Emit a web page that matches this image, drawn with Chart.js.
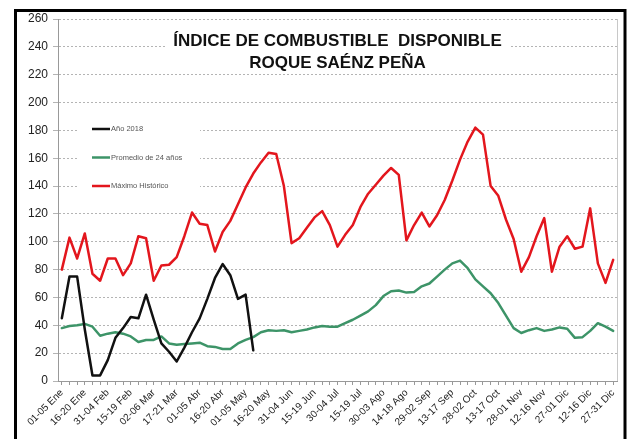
<!DOCTYPE html>
<html>
<head>
<meta charset="utf-8">
<script src="https://cdn.jsdelivr.net/npm/chart.js@4.4.1/dist/chart.umd.min.js"></script>
<style>
  html, body { margin: 0; padding: 0; background: #fff; }
</style>
</head>
<body>
<canvas id="chart" width="632" height="439"></canvas>
<script>
// one label every 3 five-day periods (73 periods in the year)
const tickLabels = [
  '01-05 Ene', '16-20 Ene', '31-04 Feb', '15-19 Feb', '02-06 Mar', '17-21 Mar',
  '01-05 Abr', '16-20 Abr', '01-05 May', '16-20 May', '31-04 Jun', '15-19 Jun',
  '30-04 Jul', '15-19 Jul', '30-03 Ago', '14-18 Ago', '29-02 Sep', '13-17 Sep',
  '28-02 Oct', '13-17 Oct', '28-01 Nov', '12-16 Nov', '27-01 Dic', '12-16 Dic',
  '27-31 Dic'
];

const anio2018 = [
  45, 75, 75, 37, 4, 4, 15, 31, 38, 46,
  45, 62, 44, 27, 21, 14, 24, 35, 45, 59,
  74, 84, 76, 59, 62, 22
];

const promedio24 = [
  38, 39.5, 40, 41, 39, 32.5, 34, 35, 34, 32,
  28, 29.5, 29.5, 32, 27, 26, 26.5, 27, 27.5, 25,
  24.5, 23, 23, 27, 29.5, 31.5, 35, 36.5, 36, 36.5,
  35, 36, 37, 38.5, 39.5, 39, 39, 41.5, 44, 47,
  50, 54.5, 61, 64.5, 65, 63.5, 64, 68, 70, 75,
  80, 84.5, 86.5, 81, 73, 68, 63, 56, 47, 38,
  34.5, 36.5, 38, 36, 37, 38.5, 37.5, 31, 31.5, 36,
  41.5, 39, 36
];

const maximoHistorico = [
  80, 103, 88, 106, 77, 72, 88, 88, 76, 84.5,
  104, 102.5, 72, 83, 83.5, 89, 104, 121, 113, 112,
  93, 107, 115, 127, 139, 149, 157, 164, 163, 140,
  99, 102.5, 110, 117.5, 122, 112, 96.5, 105, 112, 125,
  134.5, 141, 147.5, 153, 148, 101, 112, 121, 111, 119,
  130, 144, 159, 172, 182, 177, 140, 133, 116, 102,
  78.5, 89, 104, 117, 78.5, 96.5, 104, 95, 96.5, 124,
  84.5, 70.5, 87
];

const titleLines = ['ÍNDICE DE COMBUSTIBLE  DISPONIBLE', 'ROQUE SAÉNZ PEÑA'];

const FONT = '"Liberation Sans", Arial, sans-serif';

// category axis: a label on every third period, blanks between
const categories = [];
for (let i = 0; i < promedio24.length; i++) {
  categories.push(i % 3 === 0 ? tickLabels[i / 3] : '');
}

const decorations = {
  id: 'decorations',
  beforeDraw (chart) {
    const ctx = chart.ctx;
    ctx.save();
    ctx.fillStyle = '#fff';
    ctx.fillRect(0, 0, chart.width, chart.height);
    ctx.strokeStyle = '#000';
    ctx.lineWidth = 3;
    ctx.strokeRect(15.5, 10.5, 609.5, 440);
    ctx.restore();
  },
  beforeDatasetsDraw (chart) {
    const ctx = chart.ctx;
    const area = chart.chartArea;
    ctx.save();

    // right edge of plot area
    ctx.strokeStyle = '#c8c8c8';
    ctx.lineWidth = 1;
    ctx.beginPath();
    ctx.moveTo(area.right + 0.5, area.top);
    ctx.lineTo(area.right + 0.5, area.bottom);
    ctx.stroke();

    // title
    const cx = (area.left + area.right) / 2;
    ctx.fillStyle = '#fff';
    ctx.fillRect(cx - 172, 27, 344, 44);
    ctx.fillStyle = '#111';
    ctx.font = 'bold 17px ' + FONT;
    ctx.textAlign = 'center';
    ctx.textBaseline = 'alphabetic';
    ctx.fillText(titleLines[0], cx, 46);
    ctx.fillText(titleLines[1], cx, 68);

    // legend inside the plot
    ctx.fillStyle = '#fff';
    ctx.fillRect(78, 114, 122, 86);
    ctx.font = '7.5px ' + FONT;
    ctx.textAlign = 'left';
    ctx.textBaseline = 'middle';
    chart.data.datasets.forEach((ds, i) => {
      const y = 129 + i * 28.5;
      ctx.strokeStyle = ds.borderColor;
      ctx.lineWidth = 2.5;
      ctx.beginPath();
      ctx.moveTo(92, y);
      ctx.lineTo(110, y);
      ctx.stroke();
      ctx.fillStyle = '#555';
      ctx.fillText(ds.label, 111, y);
    });
    ctx.restore();
  }
};

new Chart(document.getElementById('chart'), {
  type: 'line',
  data: {
    labels: categories,
    datasets: [
      { label: 'Año 2018', data: anio2018, borderColor: '#111111' },
      { label: 'Promedio de 24 años', data: promedio24, borderColor: '#3d9468' },
      { label: 'Máximo Histórico', data: maximoHistorico, borderColor: '#e3161d' }
    ]
  },
  options: {
    responsive: false,
    animation: false,
    devicePixelRatio: 1,
    layout: { padding: { top: 19, right: 15, bottom: 0, left: 0 } },
    elements: {
      line: { borderWidth: 2.5, tension: 0, fill: false, borderJoinStyle: 'round', borderCapStyle: 'round' },
      point: { radius: 0 }
    },
    plugins: {
      legend: { display: false },
      title: { display: false },
      tooltip: { enabled: false }
    },
    scales: {
      x: {
        offset: true,
        afterFit: scale => { scale.height = 58; },
        grid: { drawOnChartArea: false, tickLength: 4, color: '#999' },
        border: { display: true, color: '#999' },
        ticks: {
          autoSkip: false,
          maxRotation: 45,
          minRotation: 45,
          padding: 2,
          color: '#222',
          font: { family: FONT, size: 10 }
        }
      },
      y: {
        min: 0,
        max: 260,
        afterFit: scale => { scale.width = 58; },
        grid: { color: '#b4b4b4', tickLength: 5 },
        border: { display: true, color: '#999', dash: [2, 2] },
        ticks: {
          stepSize: 20,
          padding: 5,
          color: '#222',
          font: { family: FONT, size: 12 }
        }
      }
    }
  },
  plugins: [decorations]
});
</script>
</body>
</html>
